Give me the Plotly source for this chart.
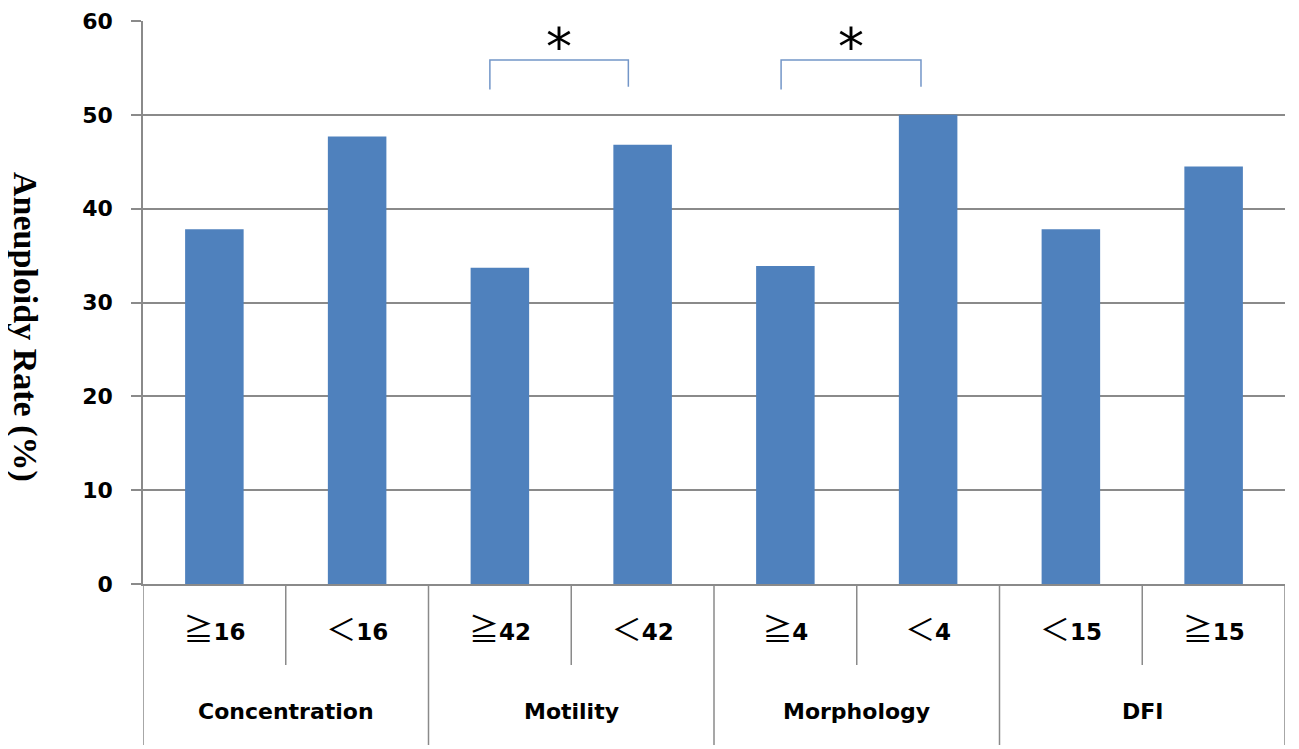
import plotly.graph_objects as go

sub_labels = ["≧16", "＜16", "≧42", "＜42", "≧4", "＜4", "＜15", "≧15"]
groups = ["Concentration", "Motility", "Morphology", "DFI"]
values = [37.8, 47.7, 33.7, 46.8, 33.9, 50.0, 37.8, 44.5]
y_ticks = [0, 10, 20, 30, 40, 50, 60]
# significance brackets (bar-index span) and their marker
sig_brackets = [(1.93, 2.90), (3.97, 4.95)]
sig_text = "*"

BAR = "#4F81BD"
GRID = "#8A8A8A"
FONT = "DejaVu Sans, Noto Sans CJK SC"
SYM_STYLE = "font-family:'Noto Sans CJK SC';font-size:30px;font-weight:normal"


def fmt_label(s):
    sym, num = s[0], s[1:]
    return f"<span style=\"{SYM_STYLE}\">{sym}</span>{num}"


x_idx = list(range(len(sub_labels)))
tick_text = [fmt_label(s) for s in sub_labels]

# figure geometry (page has an 8px body margin)
W, H = 1291, 741
ML, MR, MT, MB = 135, 14, 13, 165
PLOT_W = W - ML - MR
PLOT_H = H - MT - MB

fig = go.Figure()
fig.add_trace(go.Bar(x=x_idx, y=values, marker_color=BAR, width=0.41,
                     marker_line_width=0))

inner_len = -81 / PLOT_H
outer_len = -161 / PLOT_H

shapes = []
for i in range(len(sub_labels) + 1):
    b = i - 0.5
    y1 = outer_len if i % 2 == 0 else inner_len
    shapes.append(dict(type="line", xref="x", yref="paper", x0=b, x1=b,
                       y0=0, y1=y1, line=dict(color=GRID, width=1.5)))

annotations = []
for g, name in enumerate(groups):
    annotations.append(dict(xref="x", yref="paper", x=2 * g + 0.5,
                            y=-128 / PLOT_H, text=name, showarrow=False,
                            yanchor="middle",
                            font=dict(family=FONT, size=22, color="black", weight="bold")))

for xa, xb in sig_brackets:
    shapes.append(dict(type="path", xref="x", yref="y",
                       path=f"M {xa} 52.7 L {xa} 55.85 L {xb} 55.85 L {xb} 53.0",
                       line=dict(color="#7396C8", width=1.5)))
    annotations.append(dict(xref="x", yref="y", x=(xa + xb) / 2, y=58.0,
                            text=sig_text, showarrow=False, yanchor="middle", yshift=-7,
                            font=dict(family="DejaVu Sans", size=52, color="black")))

annotations.append(dict(xref="paper", yref="paper", x=(17 - ML) / PLOT_W,
                        y=(576 - 319) / PLOT_H, text="<b>Aneuploidy Rate (%)</b>",
                        textangle=90, showarrow=False, xanchor="center", yanchor="middle",
                        font=dict(family="Liberation Serif", size=34, color="black")))

fig.update_layout(
    width=W, height=H,
    margin=dict(l=ML, r=MR, t=MT, b=MB),
    plot_bgcolor="white", paper_bgcolor="white",
    showlegend=False,
    shapes=shapes, annotations=annotations,
    xaxis=dict(range=[-0.5, 7.5], tickmode="array", tickvals=x_idx, ticktext=tick_text,
               ticks="", showline=True, linecolor=GRID, linewidth=1.5, automargin=False,
               showgrid=False, zeroline=False, ticklabelstandoff=27,
               tickfont=dict(family=FONT, size=23, color="black", weight="bold")),
    yaxis=dict(range=[0, 60], tickmode="array", tickvals=y_ticks, automargin=False,
               showgrid=True, gridcolor=GRID, gridwidth=1.5, zeroline=False,
               showline=True, linecolor=GRID, linewidth=1.5,
               ticks="outside", ticklen=10, tickcolor=GRID, tickwidth=1.5,
               ticklabelstandoff=14,
               tickfont=dict(family=FONT, size=22, color="black", weight="bold")),
)

fig.write_html("out.html")
